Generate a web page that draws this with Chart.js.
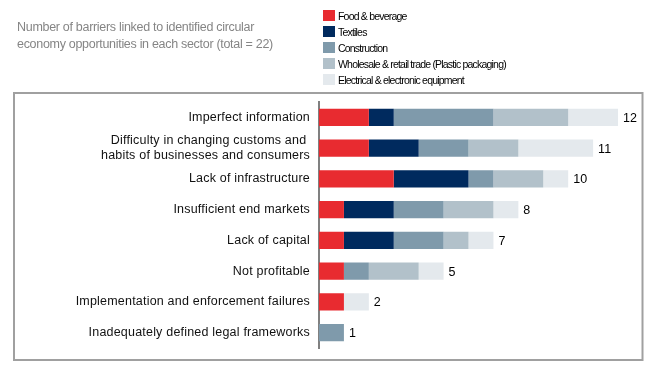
<!DOCTYPE html>
<html lang="en">
<head>
  <meta charset="UTF-8">
  <title>Barriers to circular economy opportunities</title>
  <script src="https://cdn.jsdelivr.net/npm/chart.js"></script>
  <style>
    html, body { margin: 0; padding: 0; background: #fff; }
    #wrap { position: relative; width: 670px; height: 371px; font-family: Arial, "Liberation Sans", sans-serif; }
    #chart { position: absolute; left: 0; top: 0; }
    #title { position: absolute; left: 17px; top: 19px; font-size: 12.5px; letter-spacing: -0.3px; line-height: 17px; color: #858585; }
    #legend { position: absolute; left: 323px; top: 8px; font-size: 10.5px; letter-spacing: -0.8px; color: #000; }
    #legend div { height: 16px; line-height: 16px; white-space: nowrap; }
    #legend span { display: inline-block; width: 12px; height: 11px; margin-right: 3px; vertical-align: -1px; }
  </style>
</head>
<body>
<div id="wrap">
  <canvas id="chart" width="670" height="371"></canvas>
  <div id="title">Number of barriers linked to identified circular<br>economy opportunities in each sector (total = 22)</div>
  <div id="legend"></div>
</div>

<script>
// barriers (top to bottom)
const categories = [
  "Imperfect information",
  ["Difficulty in changing customs and ", "habits of businesses and consumers"],
  "Lack of infrastructure",
  "Insufficient end markets",
  "Lack of capital",
  "Not profitable",
  "Implementation and enforcement failures",
  "Inadequately defined legal frameworks"
];

const seriesNames = [
  "Food & beverage",
  "Textiles",
  "Construction",
  "Wholesale & retail trade (Plastic packaging)",
  "Electrical & electronic equipment"
];
const colors = ["#e82b30", "#002a5e", "#7f9aab", "#b2c1ca", "#e4e9ed"];

const food         = [2, 2, 3, 1, 1, 1, 1, 0];
const textiles     = [1, 2, 3, 2, 2, 0, 0, 0];
const construction = [4, 2, 1, 2, 2, 1, 0, 1];
const wholesale    = [3, 2, 2, 2, 1, 2, 0, 0];
const electrical   = [2, 3, 1, 1, 1, 1, 1, 0];
const seriesValues = [food, textiles, construction, wholesale, electrical];

// legend as html
const legendEl = document.getElementById("legend");
seriesNames.forEach((name, i) => {
  legendEl.innerHTML += `<div><span style="background:${colors[i]}"></span>${name}</div>`;
});

const framePlugin = {
  id: "frame",
  beforeDraw(chart) {
    const ctx = chart.ctx;
    ctx.save();
    ctx.strokeStyle = "#a0a0a0";
    ctx.lineWidth = 2;
    ctx.strokeRect(14, 93, 628.5, 267);
    ctx.restore();
    ctx.letterSpacing = "0.2px"; // category labels are a bit wider in the original
  },
  afterDatasetsDraw(chart) {
    const ctx = chart.ctx;
    const x = chart.scales.x, y = chart.scales.y;
    ctx.save();
    ctx.letterSpacing = "0px";
    ctx.font = "12.5px Arial, 'Liberation Sans', sans-serif";
    ctx.fillStyle = "#000";
    ctx.textBaseline = "middle";
    categories.forEach((c, i) => {
      let total = 0;
      seriesValues.forEach(s => total += s[i]);
      ctx.fillText(String(total), x.getPixelForValue(total) + 5, y.getPixelForValue(i) + 1);
    });
    ctx.restore();
  }
};

new Chart(document.getElementById("chart"), {
  type: "bar",
  data: {
    labels: categories,
    datasets: seriesNames.map((name, i) => ({
      label: name,
      data: seriesValues[i],
      backgroundColor: colors[i],
      borderWidth: 0,
      categoryPercentage: 1,
      barPercentage: 0.56
    }))
  },
  options: {
    indexAxis: "y",
    responsive: false,
    animation: false,
    layout: { padding: { top: 102, bottom: 23, left: 0, right: 39.5 } },
    plugins: { legend: { display: false }, tooltip: { enabled: false } },
    scales: {
      x: {
        stacked: true,
        min: 0,
        max: 12.5,
        display: false
      },
      y: {
        stacked: true,
        grid: { display: false, drawTicks: false },
        border: { display: true, color: "#808080", width: 2 },
        ticks: {
          autoSkip: false,
          color: "#111",
          padding: 9,
          font: { family: "Arial, 'Liberation Sans', sans-serif", size: 12.5, lineHeight: 1.15 }
        },
        afterFit(scale) { scale.width = 319; }
      }
    }
  },
  plugins: [framePlugin]
});
</script>
</body>
</html>
